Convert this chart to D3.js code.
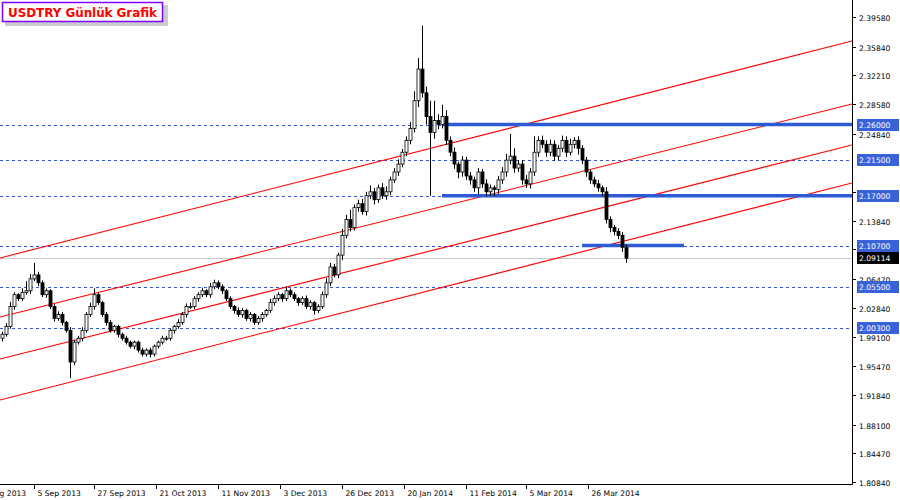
<!DOCTYPE html>
<html><head><meta charset="utf-8">
<script src="https://cdn.jsdelivr.net/npm/d3@7"></script>
<style>body{margin:0;background:#fff}svg{display:block}</style></head>
<body><svg id="c" width="900" height="500"></svg>
<script>
// closes per daily candle (open = previous close)
const closes = [1.995,2.005,2.03,2.045,2.04, 2.048,2.05,2.065,2.07,2.06, 2.045,2.05,2.03,2.015,2.02,
 2.01,2.0,1.96,1.985, 1.99,2.0,2.02,2.03,2.045,2.035,
 2.02,2.01,2.0,2.005,1.995,1.99,1.985,1.98,1.985,1.975,1.97,1.975,
 1.97,1.98,1.985,1.99,1.99,2.0,2.005,2.01,2.02,2.03,
 2.03,2.04,2.045,2.05,2.045,2.055,2.06,2.055,2.05,
 2.04,2.03,2.025,2.02,2.025,2.015,2.02,2.01,
 2.015,2.02,2.025,2.035,2.04,2.045,2.04,2.05,2.045,
 2.04,2.035,2.04,2.03,2.035,2.025,2.03,2.045,
 2.06,2.08,2.07,2.095, 2.12,2.14,2.13,2.155,
 2.16,2.15,2.17,2.175,2.165,2.18,2.17,2.175,2.19,2.2,2.21,
 2.225,2.24,2.255,2.29,2.33,2.3, 2.27,2.25,2.265,2.26,2.27,2.24,
 2.225,2.21,2.2,2.215,2.195,2.19,2.18,2.2,2.185,2.175,2.18,2.178,2.19,2.2,
 2.215,2.22,2.205,2.21,2.19,2.185,
 2.2,2.225,2.24,2.235,2.225,2.235,2.22,2.23,2.24,2.225,2.235,2.24,2.23,2.215,
 2.2,2.19,2.185,2.18,2.175, 2.14,2.13,2.125,2.12,2.105,2.09114];
const firstOpen = 1.99;
// upper / lower wick lengths in thousandths
const wickUp = [3,4,6,3,2,5,12,6,15,4,3,3,2,3,4,3,2,4,3,3,4,3,5,8,3,2,3,3,2,2,2,3,2,2,2,3,2,3,2,2,3,3,2,2,4,3,4,5,3,3,4,2,5,4,3,3,2,3,2,4,3,2,3,2,3,3,2,5,4,3,2,5,3,3,2,3,4,3,2,3,4,6,5,4,3,8,6,12,4,5,6,5,8,5,4,6,7,4,5,6,4,5,8,12,14,55,8,20,25,8,15,8,5,6,3,5,4,5,4,5,4,6,4,3,5,6,8,28,10,5,5,6,5,20,5,6,5,6,5,4,6,5,7,4,5,4,4,3,4,5,3,6,4,3,4,4,3];
const wickDn = [4,3,3,4,3,3,3,4,3,4,3,4,3,4,3,4,3,20,4,3,4,3,3,4,3,3,4,3,3,4,3,3,3,4,3,3,3,4,3,3,3,3,3,4,3,3,4,3,3,4,3,3,4,3,3,4,3,3,4,3,4,3,4,3,3,4,3,3,4,3,4,3,3,3,4,3,3,4,5,3,3,4,4,3,4,6,4,5,4,5,4,5,4,6,4,4,5,4,4,5,4,5,5,5,8,6,10,80,8,6,5,6,5,6,8,6,5,6,5,8,5,6,5,8,6,5,6,5,6,5,6,5,6,5,6,5,6,5,6,5,5,6,4,5,8,5,6,5,4,5,6,5,6,5,5,6,6,8];
const yTicks = [2.39580,2.35840,2.32210,2.28580,2.24840,2.17470,2.13840,2.10210,2.06470,2.02840,1.99100,1.95470,1.91840,1.88100,1.84470,1.80840];
const xTickIdx = [-7,8,23,38.5,54,69.5,85,100.5,116,131,146.5];
const xTickLabels = ["14 Aug 2013","5 Sep 2013","27 Sep 2013","21 Oct 2013","11 Nov 2013","3 Dec 2013","26 Dec 2013","20 Jan 2014","11 Feb 2014","5 Mar 2014","26 Mar 2014"];
const levels = [2.26000,2.21500,2.17000,2.10700,2.05500,2.00300];
const lastPrice = 2.09114;
// thick horizontal segments [fromIdx, toIdx, price]
const segments = [[110,212.5,2.26],[110,212.5,2.17],[145,170.5,2.107]];
// channel lines [idx0, price0, idx1, price1]
const channels = [[-0.5,2.0914,212.5,2.3655],[-0.5,2.0168,212.5,2.2859],[-0.5,1.9638,212.5,2.2341],[-0.5,1.9120,212.5,2.1861]];

const svg = d3.select("#c");
const W=852, H=484;
const x = d3.scaleLinear().domain([0,1]).range([2,6]);
const y = d3.scaleLinear().domain([1.80840,2.39580]).range([482,17]);
const font = "DejaVu Sans";
svg.append("clipPath").attr("id","pc").append("rect").attr("x",0).attr("y",0).attr("width",W).attr("height",H);
const g = svg.append("g").attr("clip-path","url(#pc)");

levels.forEach(l=>g.append("line").attr("x1",0).attr("x2",W).attr("y1",Math.round(y(l))+.5).attr("y2",Math.round(y(l))+.5)
 .attr("stroke","#3355dd").attr("stroke-dasharray","3,3"));
g.append("line").attr("x1",0).attr("x2",W).attr("y1",Math.round(y(lastPrice))+.5).attr("y2",Math.round(y(lastPrice))+.5).attr("stroke","#c8c8c8");
channels.forEach(c=>g.append("line").attr("x1",x(c[0])).attr("y1",y(c[1])).attr("x2",x(c[2])).attr("y2",y(c[3])).attr("stroke","#ff0000").attr("stroke-width",1.1));
segments.forEach(s=>g.append("line").attr("x1",x(s[0])).attr("x2",x(s[1])).attr("y1",y(s[2])).attr("y2",y(s[2])).attr("stroke","#2d5bd6").attr("stroke-width",3.5));

const data = closes.map((c,i)=>{const o=i?closes[i-1]:firstOpen;return {i,o,c,h:Math.max(o,c)+wickUp[i]/1000,l:Math.min(o,c)-wickDn[i]/1000};});
const cg = g.selectAll("g.k").data(data).join("g");
cg.append("line").attr("x1",d=>Math.round(x(d.i))+.5).attr("x2",d=>Math.round(x(d.i))+.5)
 .attr("y1",d=>y(d.h)).attr("y2",d=>y(d.l)).attr("stroke","#000");
cg.append("rect").attr("x",d=>Math.round(x(d.i))-1).attr("width",3)
 .attr("y",d=>y(Math.max(d.o,d.c))).attr("height",d=>Math.max(1,Math.abs(y(d.o)-y(d.c))))
 .attr("fill",d=>d.c>=d.o?"#fff":"#000").attr("stroke","#000").attr("stroke-width",0.8);

svg.append("line").attr("x1",W+.5).attr("x2",W+.5).attr("y1",0).attr("y2",H+.5).attr("stroke","#000");
svg.append("line").attr("x1",0).attr("x2",W+.5).attr("y1",H+.5).attr("y2",H+.5).attr("stroke","#000");

const fs = 7.6;
yTicks.forEach(t=>{const yy=Math.round(y(t))+.5;
 svg.append("line").attr("x1",W).attr("x2",W+4).attr("y1",yy).attr("y2",yy).attr("stroke","#000");
 svg.append("text").attr("x",W+7).attr("y",yy+3).text(t.toFixed(5)).attr("font-family",font).attr("font-size",fs).attr("fill","#000");});
function tag(v,bg){const yy=Math.round(y(v));
 svg.append("rect").attr("x",W+5).attr("y",yy-6).attr("width",42).attr("height",12).attr("fill",bg);
 svg.append("text").attr("x",W+7).attr("y",yy+3).text(v.toFixed(5)).attr("font-family",font).attr("font-size",fs).attr("fill","#fff");}
levels.forEach(l=>tag(l,"#3a62d8"));
tag(lastPrice,"#000");

xTickIdx.forEach((t,k)=>{const xx=Math.round(x(t))+.5;
 svg.append("line").attr("x1",xx).attr("x2",xx).attr("y1",H).attr("y2",H+5).attr("stroke","#000");
 svg.append("text").attr("x",xx+3).attr("y",H+12).text(xTickLabels[k]).attr("font-family",font).attr("font-size",fs).attr("fill","#000");});

svg.append("rect").attr("x",5).attr("y",5).attr("width",163).attr("height",21).attr("fill","#999").attr("opacity",0.5);
svg.append("rect").attr("x",2.5).attr("y",2.5).attr("width",160).attr("height",19).attr("fill","#fff").attr("stroke","#7f00ff").attr("stroke-width",1.5);
svg.append("text").attr("x",8).attr("y",17).text("USDTRY Günlük Grafik").attr("font-family",font).attr("font-weight","bold").attr("font-size",12).attr("textLength",149).attr("fill","#ff0000");
</script></body></html>
